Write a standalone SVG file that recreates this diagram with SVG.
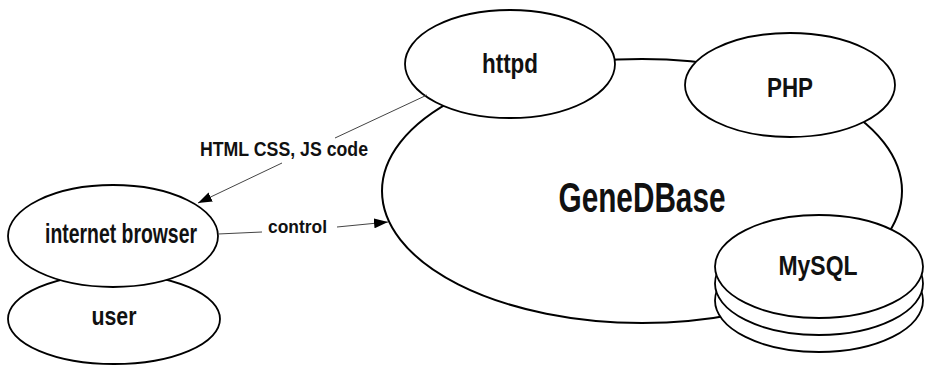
<svg xmlns="http://www.w3.org/2000/svg" width="925" height="366" viewBox="0 0 925 366">
<style>
.n{fill:#fff;stroke:#000;stroke-width:1.8}
.big{fill:#fff;stroke:#000;stroke-width:2}
.t{font-family:"Liberation Sans",Arial,sans-serif;font-weight:bold;fill:#111;text-anchor:middle}
.c{stroke:#444;stroke-width:1;fill:none}
.l{font-family:"Liberation Sans",Arial,sans-serif;font-weight:bold;fill:#111}
</style>
<defs>
<marker id="ah" viewBox="0 0 14 10" refX="14" refY="5" markerWidth="14" markerHeight="10" markerUnits="userSpaceOnUse" orient="auto">
<path d="M0,0 L14,5 L0,10 Z" fill="#000"/>
</marker>
</defs>
<rect width="925" height="366" fill="#fff"/>
<g id="genedbase">
<ellipse class="big" cx="642" cy="191" rx="260" ry="132"/>
<text class="t" x="642" y="212" font-size="42" textLength="167" lengthAdjust="spacingAndGlyphs">GeneDBase</text>
</g>
<g id="httpd">
<ellipse class="n" cx="510" cy="64" rx="105" ry="54"/>
<text class="t" x="510" y="73" font-size="27" textLength="56" lengthAdjust="spacingAndGlyphs">httpd</text>
</g>
<g id="php">
<ellipse class="n" cx="790" cy="85" rx="105" ry="52"/>
<text class="t" x="790" y="97" font-size="27" textLength="46" lengthAdjust="spacingAndGlyphs">PHP</text>
</g>
<g id="mysql">
<ellipse class="n" cx="819" cy="300.5" rx="104" ry="51.5"/>
<ellipse class="n" cx="819" cy="283.5" rx="104" ry="51.5"/>
<ellipse class="n" cx="819" cy="266.5" rx="104" ry="51.5"/>
<text class="t" x="818" y="275" font-size="28" textLength="79" lengthAdjust="spacingAndGlyphs">MySQL</text>
</g>
<g id="user">
<ellipse class="n" cx="114" cy="319" rx="106" ry="45"/>
<text class="t" x="114" y="325" font-size="25" textLength="45" lengthAdjust="spacingAndGlyphs">user</text>
</g>
<g id="browser">
<ellipse class="n" cx="113" cy="236" rx="105" ry="51"/>
<text class="t" x="121" y="243" font-size="28" textLength="152" lengthAdjust="spacingAndGlyphs">internet browser</text>
</g>
<g id="connectors">
<line class="c" x1="427" y1="95" x2="335" y2="138"/>
<line class="c" x1="282" y1="163" x2="198" y2="203" marker-end="url(#ah)"/>
<text class="l" x="200" y="156" font-size="20" textLength="168" lengthAdjust="spacingAndGlyphs">HTML CSS, JS code</text>
<line class="c" x1="218" y1="234" x2="262" y2="232"/>
<line class="c" x1="337" y1="227" x2="388" y2="222" marker-end="url(#ah)"/>
<text class="l" x="268" y="233" font-size="18" textLength="59" lengthAdjust="spacingAndGlyphs">control</text>
</g>
</svg>
